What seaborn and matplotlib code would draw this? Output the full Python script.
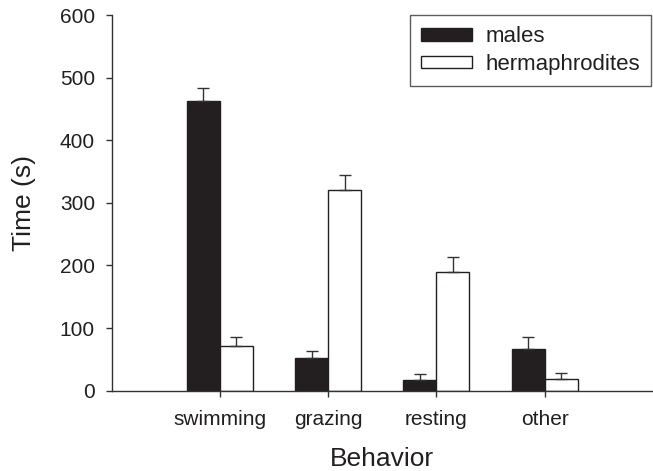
import matplotlib
matplotlib.use("Agg")
import matplotlib.pyplot as plt
import seaborn as sns
import pandas as pd

behaviors = ["swimming", "grazing", "resting", "other"]
sexes = ["males", "hermaphrodites"]
males = [462, 53, 17, 67]
males_err = [22, 10, 9, 19]
herms = [71, 320, 189, 18]
herms_err = [15, 25, 24, 10]
yticks = [0, 100, 200, 300, 400, 500, 600]

df = pd.DataFrame({
    "Behavior": behaviors * 2,
    "sex": [sexes[0]] * len(behaviors) + [sexes[1]] * len(behaviors),
    "Time": males + herms,
})
errs = {sexes[0]: males_err, sexes[1]: herms_err}

sns.set_style("ticks")
plt.rcParams["font.family"] = ["Liberation Sans", "DejaVu Sans"]
ink = "#231f20"
plt.rcParams.update({
    "axes.edgecolor": "#333333",
    "axes.linewidth": 1.0,
    "xtick.color": "#333333",
    "ytick.color": "#333333",
    "xtick.labelcolor": ink,
    "ytick.labelcolor": ink,
    "xtick.major.size": 4,
    "ytick.major.size": 4,
    "xtick.direction": "out",
    "ytick.direction": "out",
    "text.color": ink,
    "axes.labelcolor": ink,
})

fig = plt.figure(figsize=(6.53, 4.71), dpi=100)
ax = fig.add_axes([0.171, 0.1705, 0.829, 0.7975])

sns.barplot(data=df, x="Behavior", y="Time", hue="sex", order=behaviors,
            hue_order=sexes, palette={sexes[0]: ink, sexes[1]: "white"},
            edgecolor=ink, linewidth=1.0, width=0.61, errorbar=None,
            saturation=1, ax=ax)

for cont, sex in zip(ax.containers, sexes):
    xs = [b.get_x() + b.get_width() / 2 for b in cont]
    hs = [b.get_height() for b in cont]
    ax.errorbar(xs, hs, yerr=[[0] * len(hs), errs[sex]], fmt="none",
                ecolor="#333333", elinewidth=1.0, capsize=4.5, capthick=1.0,
                zorder=1)

sns.despine(ax=ax)
ax.set_xlim(-1, 4)
ax.set_ylim(0, 600)
ax.spines["bottom"].set_bounds(-1, 4)
ax.set_yticks(yticks)
ax.tick_params(axis="both", labelsize=15, width=1.0)
ax.tick_params(axis="x", pad=10)
ax.tick_params(axis="y", pad=8)
ax.set_xlabel("Behavior", fontsize=19, labelpad=13)
ax.set_ylabel("Time (s)", fontsize=19, labelpad=17)

sns.move_legend(ax, "upper right", bbox_to_anchor=(0.996, 1.0),
                borderaxespad=0, title=None, fontsize=16, frameon=True,
                fancybox=False, handlelength=2.3, handleheight=0.5,
                handletextpad=0.6, labelspacing=0.3, borderpad=0.5)
leg = ax.get_legend()
leg.get_frame().set_edgecolor("#333333")
leg.get_frame().set_linewidth(1.0)

fig.savefig("out.png", dpi=100)
